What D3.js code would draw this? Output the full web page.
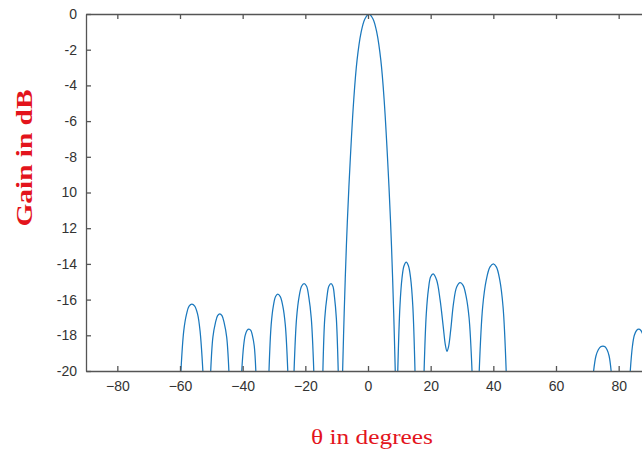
<!DOCTYPE html>
<html>
<head>
    <title>Array Gain Pattern</title>
    <style>
        body { margin: 0; background: #fff; }
        .axis path, .axis line { stroke: #555; stroke-width: 1.3; }
        .axis text { font-family: Arial, "Liberation Sans", sans-serif; font-size: 14px; fill: #333; }
        .axis-label { font-family: "Liberation Serif", "DejaVu Serif", serif; fill: #e3141c; }
    </style>
</head>
<body>
<div id="chart"></div>
<script src="https://d3js.org/d3.v7.min.js"></script>
<script>
    // angle (deg) and gain (dB); null breaks the line where the pattern drops under -20 dB
    const theta = [
        -59.7, -58.8, -57.9, -57.1, -56.2, -55.3, -54.4, -53.6, -52.7, -51.5,
        -50.2, -49.5, -48.7, -48.0, -47.3, -46.6, -45.9, -45.1, -44.4, -42,
        -40.3, -39.7, -39.2, -38.6, -38.0, -37.4, -36.9, -36.3, -35.8, -33.5,
        -31.6, -30.9, -30.2, -29.5, -28.8, -28.0, -27.2, -26.4, -25.6, -24.5,
        -23.6, -22.8, -22.0, -21.2, -20.4, -19.6, -18.9, -18.1, -17.3, -16,
        -14.4, -13.8, -13.1, -12.5, -11.8, -11.2, -10.7, -10.1, -9.5, -8.8,
        -8.1, -7.6, -6.9, -6.1, -4.55, -3.5, -2.25, -1.0, 0.3, 1.6, 2.85, 4.1, 5.15, 6.7, 7.5, 8.2, 8.7, 9.1,
        9.5, 10.2, 10.85, 11.5, 12.2, 12.9, 13.6, 14.3, 15.0, 16.5,
        17.9, 18.6, 19.3, 20.0, 20.8, 21.9, 23.0, 24.0, 24.7, 25.2, 25.7, 26.4, 27.3, 28.3, 29.4, 30.35, 31.3, 32.25, 33.2, 34.3,
        35.5, 36.6, 37.75, 38.9, 40.0, 41.0, 42.05, 43.1, 44.1, 58,
        72.0, 72.75, 73.5, 74.25, 75.0, 75.65, 76.3, 76.95, 77.6, 80,
        83.7, 84.4, 85.0, 85.7, 86.4, 87.1, 87.8, 88.4, 89.1
    ];
    const gain = [
        -20, -17.75, -16.8, -16.36, -16.25, -16.36, -16.8, -17.75, -20, null,
        -20, -18.1, -17.3, -16.9, -16.8, -16.9, -17.3, -18.1, -20, null,
        -20, -18.6, -18.0, -17.72, -17.65, -17.72, -18.0, -18.6, -20, null,
        -20, -17.4, -16.35, -15.83, -15.7, -15.83, -16.35, -17.4, -20, null,
        -20, -17.05, -15.85, -15.25, -15.1, -15.25, -15.85, -17.05, -20, null,
        -20, -17.05, -15.85, -15.25, -15.1, -15.25, -15.85, -17.05, -20, null,
        -20, -16.75, -13.0, -9.7, -4.8, -2.6, -1.07, -0.28, 0, -0.28, -1.07, -2.6, -4.8, -9.7, -13.0, -16.75, -20, null,
        -20, -16.35, -14.8, -14.1, -13.9, -14.1, -14.8, -16.35, -20, null,
        -20, -16.8, -15.4, -14.72, -14.56, -14.9, -16.0, -17.5, -18.55, -18.9, -18.65, -17.7, -16.2, -15.3, -15.05, -15.2, -15.8, -17.0, -20, null,
        -20, -16.4, -14.9, -14.18, -14.0, -14.18, -14.9, -16.4, -20, null,
        -20, -19.16, -18.81, -18.64, -18.6, -18.64, -18.81, -19.16, -20, null,
        -20, -18.6, -18.0, -17.73, -17.66, -17.73, -18.0, -18.6, -20
    ];
    const xTicks = [-80, -60, -40, -20, 0, 20, 40, 60, 80];
    const yTicks = [0, -2, -4, -6, -8, -10, -12, -14, -16, -18, -20];
    // the original figure lost the minus sign on two labels
    const yTickLabels = ["0", "-2", "-4", "-6", "-8", "10", "12", "-14", "-16", "-18", "-20"];

    const data = theta.map((t, i) => ({ t: t, g: gain[i] }));

    const width = 642, height = 454;
    const plotLeft = 86, plotRight = 650, plotTop = 14, plotBottom = 371;

    const svg = d3.select("#chart").append("svg")
        .attr("width", width)
        .attr("height", height);

    const x = d3.scaleLinear().domain([-90, 90]).range([plotLeft, plotRight]);
    const y = d3.scaleLinear().domain([-20, 0]).range([plotBottom, plotTop]);

    svg.append("clipPath").attr("id", "plot")
        .append("rect")
        .attr("x", plotLeft).attr("y", plotTop)
        .attr("width", plotRight - plotLeft).attr("height", plotBottom - plotTop);

    const line = d3.line()
        .defined(d => d.g !== null)
        .x(d => x(d.t))
        .y(d => y(d.g))
        .curve(d3.curveCatmullRom.alpha(0.5));

    svg.append("path")
        .datum(data)
        .attr("clip-path", "url(#plot)")
        .attr("d", line)
        .attr("fill", "none")
        .attr("stroke", "#1a78bd")
        .attr("stroke-width", 1.25);

    // axes, ticks pointing inside
    svg.append("g").attr("class", "axis")
        .attr("transform", `translate(0,${plotBottom})`)
        .call(d3.axisBottom(x).tickValues(xTicks).tickSize(-5).tickPadding(10).tickSizeOuter(0));

    svg.append("g").attr("class", "axis")
        .attr("transform", `translate(0,${plotTop})`)
        .call(d3.axisTop(x).tickValues(xTicks).tickSize(-5).tickSizeOuter(0).tickFormat(""));

    svg.append("g").attr("class", "axis")
        .attr("transform", `translate(${plotLeft},0)`)
        .call(d3.axisLeft(y).tickValues(yTicks).tickSize(-5).tickPadding(9).tickSizeOuter(0)
            .tickFormat((d, i) => yTickLabels[i]));

    svg.append("text")
        .attr("class", "axis-label")
        .attr("transform", "translate(32,158) rotate(-90)")
        .attr("text-anchor", "middle")
        .attr("textLength", 137)
        .attr("lengthAdjust", "spacingAndGlyphs")
        .style("font-size", "24px")
        .style("font-weight", "bold")
        .text("Gain in dB");

    svg.append("text")
        .attr("class", "axis-label")
        .attr("x", 372)
        .attr("y", 444)
        .attr("text-anchor", "middle")
        .attr("textLength", 122)
        .attr("lengthAdjust", "spacingAndGlyphs")
        .style("font-size", "22px")
        .text("θ in degrees");
</script>
</body>
</html>
